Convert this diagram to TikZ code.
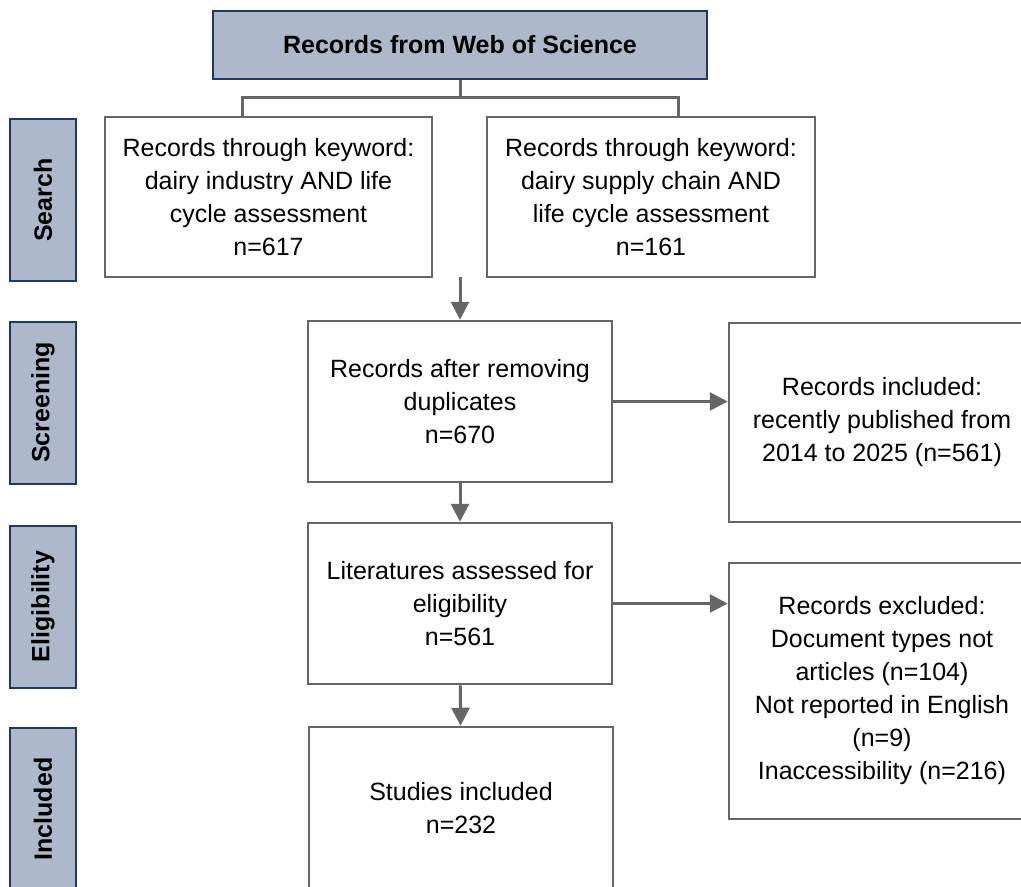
\documentclass[tikz,border=0pt]{standalone}
\usepackage{fontspec}
\setmainfont{Liberation Sans}
\usetikzlibrary{arrows.meta}
\definecolor{stagefill}{HTML}{ADB9CA}
\definecolor{stagedraw}{HTML}{1F3864}
\definecolor{flowgray}{HTML}{666666}

\begin{document}
\begin{tikzpicture}[x=1pt,y=-1pt,
	stage/.style={draw=stagedraw,line width=2pt,fill=stagefill,inner sep=0pt,
		font=\bfseries\fontsize{25}{33}\selectfont},
	phase/.style={stage,rotate=90,minimum width=162pt,minimum height=66pt},
	record/.style={draw=flowgray,line width=2.5pt,fill=white,align=center,inner sep=0pt,
		font=\fontsize{25}{33}\selectfont},
	link/.style={draw=flowgray,line width=3pt},
	flow/.style={link,-{Triangle[length=18pt,width=18pt]}}]
	\useasboundingbox (0,0) rectangle (1021,887);  % page size
	\clip (0,0) rectangle (1021,887);
	
	% Source
	\node[stage,minimum width=494pt,minimum height=68pt] (wos) at (460,45) {Records from Web of Science};
	
	% Phases on the left
	\node[phase] (search) at (43,200) {Search};
	\node[phase] (screening) at (43,402.5) {Screening};
	\node[phase] (eligibility) at (43,606.5) {Eligibility};
	\node[phase] (included) at (43,809) {Included};
	
	% Search
	\node[record,minimum width=327pt,minimum height=160pt] (kwind) at (268.5,197)
		{Records through keyword:\\dairy industry AND life\\cycle assessment\\n=617};
	\node[record,minimum width=328pt,minimum height=160pt] (kwsup) at (651,197)
		{Records through keyword:\\dairy supply chain AND\\life cycle assessment\\n=161};
	
	% Screening
	\node[record,minimum width=304pt,minimum height=161pt] (dedup) at (460,401.5)
		{Records after removing\\duplicates\\n=670};
	\node[record,minimum width=306pt,minimum height=199pt] (recent) at (882,422.5)
		{Records included:\\recently published from\\2014 to 2025 (n=561)};
	
	% Eligibility
	\node[record,minimum width=304pt,minimum height=161pt] (assessed) at (460,603.5)
		{Literatures assessed for\\eligibility\\n=561};
	\node[record,minimum width=306pt,minimum height=256pt] (excluded) at (882,691)
		{Records excluded:\\Document types not\\articles (n=104)\\Not reported in English\\(n=9)\\Inaccessibility (n=216)};
	
	% Included
	\node[record,minimum width=304pt,minimum height=162pt] (studies) at (461,808)
		{Studies included\\n=232};
	
	% Connectors
	\coordinate (split) at (460,97);
	\coordinate (dropind) at (242,117);
	\coordinate (dropsup) at (678,117);
	\coordinate (merge) at (460,277);
	\draw[link] (wos.south) -- (split);
	\draw[link] (split) -| (dropind);
	\draw[link] (split) -| (dropsup);
	\draw[flow] (merge) -- (dedup);
	\draw[flow] (dedup.east) -- (dedup.east -| recent.west);
	\draw[flow] (dedup) -- (assessed);
	\draw[flow] (assessed.east) -- (assessed.east -| excluded.west);
	\draw[flow] (assessed) -- (studies);
\end{tikzpicture}
\end{document}
